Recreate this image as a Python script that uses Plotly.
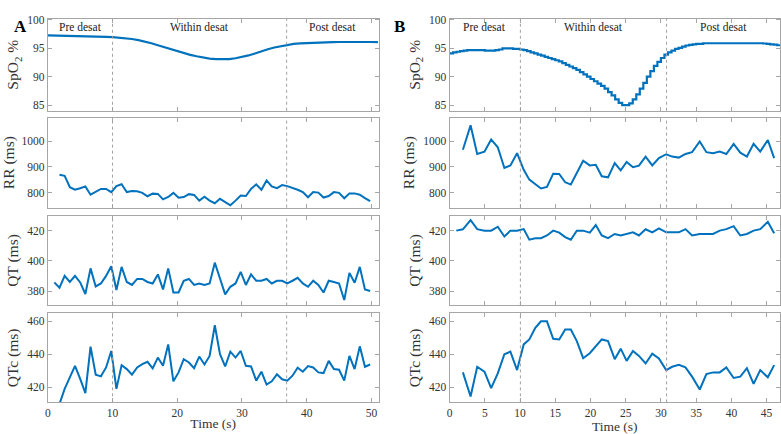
import plotly.graph_objects as go
from plotly.subplots import make_subplots

# ---------------- panel A ----------------
spo2_t_a = [0, 1, 2, 3, 4, 5, 6, 7, 8, 9, 10, 11, 12, 13, 14, 15, 16, 17, 18, 19,
            20, 21, 22, 23, 24, 25, 26, 27, 28, 29, 30, 31, 32, 33, 34, 35, 36, 37,
            38, 39, 40, 41, 42, 43, 44, 45, 46, 47, 48, 49, 50, 51]
spo2_a = [97.3, 97.28, 97.25, 97.22, 97.2, 97.17, 97.14, 97.1, 97.06, 97.02,
          96.97, 96.9, 96.8, 96.65, 96.45, 96.2, 95.9, 95.55, 95.2, 94.85,
          94.5, 94.15, 93.85, 93.6, 93.38, 93.2, 93.1, 93.05, 93.1, 93.25,
          93.45, 93.75, 94.1, 94.5, 94.85, 95.15, 95.4, 95.62, 95.78, 95.88,
          95.95, 96.0, 96.05, 96.08, 96.1, 96.12, 96.14, 96.15, 96.15, 96.14,
          96.12, 96.1]

beat_t_a = [1.0, 1.8, 2.6, 3.4, 4.2, 5.0, 5.8, 6.6, 7.4, 8.2,
            9.0, 9.8, 10.6, 11.4, 12.2, 13.0, 13.8, 14.6, 15.4, 16.2,
            17.0, 17.8, 18.6, 19.4, 20.2, 21.0, 21.8, 22.6, 23.4, 24.2,
            25.0, 25.8, 26.6, 27.4, 28.2, 29.0, 29.8, 30.6, 31.4, 32.2,
            33.0, 33.8, 34.6, 35.4, 36.2, 37.0, 37.8, 38.6, 39.4, 40.2,
            41.0, 41.8, 42.6, 43.4, 44.2, 45.0, 45.8, 46.6, 47.4, 48.2,
            49.0, 49.8]
rr_a = [None, 870, 866, 822, 812, 818, 825, 793, 805, 815, 815, 803, 826, 833, 803,
        807, 806, 800, 787, 797, 796, 775, 784, 800, 781, 784, 795, 792, 770, 785,
        770, 760, 777, 763, 752, 770, 790, 788, 815, 833, 812, 848, 825, 818, 830,
        826, 820, 812, 803, 783, 803, 801, 782, 788, 803, 800, 779, 798, 798, 793,
        780, 768]
qt_a = [385.7, 382.2, 390, 386, 390, 385.7, 378, 395, 383, 385, 390, 396.4, 380.7,
        396, 386, 384, 388, 388, 386, 385, 391, 381, 395, 379, 379, 386.8, 388, 384,
        385, 384, 385, 398.8, 388.3, 377.8, 382.8, 385, 392.7, 384, 391, 386.8,
        386.8, 388, 385, 386.8, 386.8, 385, 386.8, 388.7, 385, 382.8, 386.8, 384,
        379, 386.8, 386, 385, 374, 392, 385.5, 396, 381, 380]
qtc_a = [None, 409.8, 419, 426, 433, 425, 416.4, 444.6, 427.6, 426.6, 432, 442, 419,
         433.4, 431, 427.6, 432, 434, 435.4, 431.4, 438, 433, 446, 423.6, 429, 437,
         435, 431.6, 438.6, 433.8, 439, 457.6, 440, 432.6, 441.6, 438, 442, 433,
         432.6, 424, 429.4, 421.6, 423.6, 427.8, 424.8, 424, 427, 431.8, 429.4,
         432.8, 432, 429, 428.6, 436, 431, 430.6, 424, 439, 431, 444.8, 432.4, 433.8]
desat_a = [10.0, 36.9]
xmax_a = 51.1

# ---------------- panel B ----------------
spo2_t_b = [0.0, 0.5, 1.0, 1.5, 2.0, 2.5, 3.0, 3.5, 4.0, 4.5, 5.0, 5.5, 6.0, 6.5,
            7.0, 7.5, 8.0, 8.5, 9.0, 9.5, 10.0, 10.5, 11.0, 11.5, 12.0, 12.5, 13.0,
            13.5, 14.0, 14.5, 15.0, 15.5, 16.0, 16.5, 17.0, 17.5, 18.0, 18.5, 19.0,
            19.5, 20.0, 20.5, 21.0, 21.5, 22.0, 22.5, 23.0, 23.5, 24.0, 24.5, 25.0,
            25.5, 26.0, 26.5, 27.0, 27.5, 28.0, 28.5, 29.0, 29.5, 30.0, 30.5, 31.0,
            31.5, 32.0, 32.5, 33.0, 33.5, 34.0, 34.5, 35.0, 35.5, 36.0, 36.5, 37.0,
            37.5, 38.0, 38.5, 39.0, 39.5, 40.0, 40.5, 41.0, 41.5, 42.0, 42.5, 43.0,
            43.5, 44.0, 44.5, 45.0, 45.5, 46.0, 46.5, 47.0]
spo2_b = [94.1, 94.3, 94.4, 94.5, 94.6, 94.7, 94.7, 94.7, 94.7, 94.7, 94.6, 94.6,
          94.6, 94.7, 94.8, 95.0, 95.0, 95.0, 94.9, 94.9, 94.8, 94.7, 94.5, 94.3,
          94.1, 93.9, 93.7, 93.5, 93.3, 93.1, 92.9, 92.7, 92.4, 92.1, 91.8, 91.5,
          91.2, 90.8, 90.4, 90.0, 89.6, 89.2, 88.8, 88.4, 87.9, 87.3, 86.7, 86.0,
          85.4, 85.0, 85.0, 85.3, 86.0, 86.9, 87.9, 88.9, 90.0, 91.0, 91.9, 92.6,
          93.3, 93.9, 94.3, 94.6, 94.9, 95.1, 95.3, 95.5, 95.6, 95.7, 95.8, 95.8,
          95.9, 95.9, 95.9, 95.9, 95.9, 95.9, 95.9, 95.9, 95.9, 95.9, 95.9, 95.9,
          95.9, 95.9, 95.9, 95.9, 95.9, 95.85, 95.8, 95.7, 95.65, 95.55, 95.5]

beat_t_b = [0.95, 1.89, 2.98, 3.92, 4.95, 5.90, 6.84, 7.78, 8.63, 9.58, 10.52,
            11.32, 12.17, 12.97, 13.82, 14.71, 15.56, 16.41, 17.21, 18.06, 18.96,
            19.90, 20.75, 21.60, 22.49, 23.44, 24.29, 25.13, 26.03, 26.88, 27.82,
            28.77, 29.71, 30.75, 31.59, 32.54, 33.48, 34.42, 35.51, 36.45, 37.39,
            38.34, 39.28, 40.32, 41.26, 42.20, 43.15, 44.09, 45.17, 46.07]
rr_b = [None, 966, 1061, 950, 959, 1006, 976, 896, 906, 953, 889, 851, 832, 817,
        823, 874, 873, 841, 832, 876, 924, 906, 908, 864, 860, 915, 887, 919, 899,
        905, 940, 906, 934, 949, 940, 936, 950, 957, 998, 957, 953, 959, 950, 989,
        955, 940, 989, 959, 1004, 934]
qt_b = [420, 420.9, 426.9, 421, 420, 420, 422.6, 416.1, 420, 420, 421, 414, 415,
        415, 416.8, 420, 418.7, 415.7, 414, 420, 420, 418.7, 423.7, 416.8, 415,
        417.8, 416.8, 417.8, 418.9, 416.8, 420.9, 418.9, 421.5, 418.9, 418.9, 418.9,
        421, 416.8, 417.8, 417.8, 417.8, 420, 421, 423, 416.8, 417.8, 420, 421,
        425.8, 418.3]
qtc_b = [None, 429, 414.4, 432.4, 429.4, 419.4, 428.4, 440, 441.6, 430.4, 446, 449,
         456, 460, 460, 449.4, 449, 455, 455, 448, 437.6, 440.6, 445, 449, 448, 437,
         443.4, 436, 442, 439, 434.4, 440.4, 437.4, 430.4, 432.4, 433.6, 432, 426.4,
         418.6, 428, 429, 429, 432, 425.6, 426.4, 431.6, 422, 430.4, 426, 433.4]
desat_b = [10.05, 30.8]
xmax_b = 46.9

phase_labels = ["Pre desat", "Within desat", "Post desat"]

BLUE = "#0072BD"
FRAME = "#a6a6a6"
FONT = "Liberation Serif"
W, H = 781, 434

fig = make_subplots(rows=4, cols=2)

# spo2
fig.add_trace(go.Scatter(x=spo2_t_a, y=spo2_a, mode="lines", line=dict(color=BLUE, width=2.2)), row=1, col=1)
fig.add_trace(go.Scatter(x=spo2_t_b, y=spo2_b, mode="lines", line=dict(color=BLUE, width=2.2, shape="hv")), row=1, col=2)
# beat series
for col, t, series in [(1, beat_t_a, [rr_a, qt_a, qtc_a]), (2, beat_t_b, [rr_b, qt_b, qtc_b])]:
    for r, s in enumerate(series, start=2):
        fig.add_trace(go.Scatter(x=t, y=s, mode="lines", connectgaps=False,
                                 line=dict(color=BLUE, width=2)), row=r, col=col)

# desat markers
for col, d in [(1, desat_a), (2, desat_b)]:
    for xv in d:
        fig.add_vline(x=xv, line=dict(color="#a0a0a0", width=1, dash="dot"), row="all", col=col)

# domains (pixels -> paper)
row_px = [(14, 107), (114, 205), (213, 304), (312, 402)]
col_px = [(45, 377), (448.3, 780)]
y_titles = ["SpO<sub>2</sub> %", "RR (ms)", "QT (ms)", "QTc (ms)"]
y_ranges = [[84, 100.2], [743, 1090], [370.4, 430], [410.8, 464.8]]
y_ticks = [[85, 90, 95, 100], [800, 900, 1000], [380, 400, 420], [420, 440, 460]]
x_ticks = [[0, 10, 20, 30, 40, 50], [0, 5, 10, 15, 20, 25, 30, 35, 40, 45]]
x_max = [xmax_a, xmax_b]

axis_common = dict(showline=True, linecolor=FRAME, linewidth=1, mirror="ticks",
                   ticks="inside", ticklen=4, tickcolor=FRAME, showgrid=False,
                   zeroline=False, tickfont=dict(family=FONT, size=11.5, color="#333"))

for r in range(4):
    top, bot = row_px[r]
    for c in range(2):
        left, right = col_px[c]
        fig.update_xaxes(domain=[left / W, right / W], range=[0, x_max[c]],
                         tickvals=x_ticks[c], showticklabels=(r == 3),
                         row=r + 1, col=c + 1, **axis_common)
        if r == 3:
            fig.update_xaxes(title=dict(text="Time (s)", font=dict(family=FONT, size=13.5, color="#333"), standoff=0),
                             row=r + 1, col=c + 1)
        fig.update_yaxes(domain=[1 - bot / H, 1 - top / H], range=y_ranges[r],
                         tickvals=y_ticks[r],
                         title=dict(text=y_titles[r], font=dict(family=FONT, size=15.5, color="#333"), standoff=4),
                         row=r + 1, col=c + 1, **axis_common)

# phase labels in top panels
for xref, yref, d, xm in [("x", "y", desat_a, xmax_a), ("x2", "y2", desat_b, xmax_b)]:
    bounds = [0] + d + [xm]
    for i, lab in enumerate(phase_labels):
        fig.add_annotation(x=(bounds[i] + bounds[i + 1]) / 2, y=98.8, xref=xref, yref=yref,
                           text=lab, showarrow=False,
                           font=dict(family=FONT, size=11.5, color="#222"))

# panel letters
for lx, lab in [(9, "A"), (398, "B")]:
    fig.add_annotation(x=lx / W, y=1 - 10 / H, xref="paper", yref="paper", text="<b>" + lab + "</b>",
                       showarrow=False, font=dict(family=FONT, size=17, color="#000"))

fig.update_layout(width=W, height=H, margin=dict(l=0, r=0, t=0, b=0),
                  paper_bgcolor="white", plot_bgcolor="white", showlegend=False,
                  font=dict(family=FONT))

fig.write_html("out.html", config={"displayModeBar": False},
               post_script="document.body.style.margin='0';")
